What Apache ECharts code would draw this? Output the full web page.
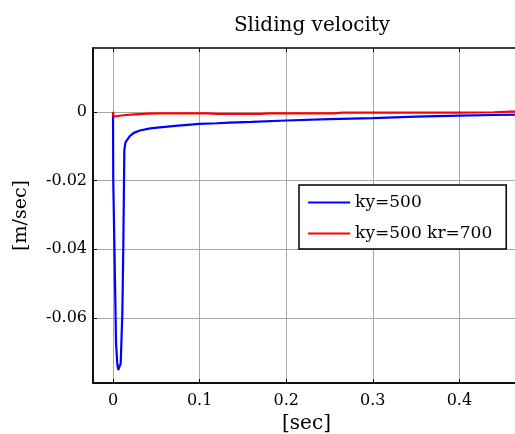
<html>
<head>
<meta charset="utf-8" />
<script src="https://cdn.jsdelivr.net/npm/echarts@6/dist/echarts.min.js"></script>
<style>
  html, body { margin: 0; padding: 0; background: #fff; overflow: hidden; }
  /* the plot box runs past the right edge of the window, as in the picture */
  #chart { width: 525px; height: 434px; }
</style>
</head>
<body>
<div id="chart"></div>
<script type="text/javascript">
    // values
    var xTicks = [0, 0.1, 0.2, 0.3, 0.4];
    var yTicks = [-0.06, -0.04, -0.02, 0];

    var tBlue = [0, 0.0003, 0.0012, 0.0023, 0.0035, 0.005, 0.0061, 0.0075, 0.0089, 0.0108, 0.0119, 0.0131,
        0.0145, 0.0197, 0.024, 0.031, 0.043, 0.054, 0.075, 0.1, 0.12, 0.135, 0.16, 0.2,
        0.25, 0.3, 0.35, 0.4, 0.44, 0.47];
    var vBlue = [0, -0.02, -0.0334, -0.049, -0.0673, -0.0735, -0.0751, -0.0748, -0.0732, -0.0585, -0.0392, -0.011,
        -0.0088, -0.007, -0.0061, -0.0054, -0.0048, -0.0045, -0.004, -0.0035, -0.0033, -0.0031, -0.0029, -0.0025,
        -0.0021, -0.0018, -0.0014, -0.0011, -0.0009, -0.0008];

    var tRed = [0, 0.0005, 0.005, 0.015, 0.025, 0.04, 0.055, 0.1, 0.11, 0.12, 0.15, 0.17, 0.18,
        0.22, 0.255, 0.265, 0.3, 0.35, 0.4, 0.44, 0.46, 0.47];
    var vRed = [0, -0.0013, -0.0012, -0.0009, -0.0007, -0.0005, -0.0004, -0.0004, -0.0004, -0.0006, -0.0006, -0.0006, -0.0004,
        -0.0004, -0.0004, -0.0002, -0.0002, -0.0002, -0.0002, -0.0001, 0.0001, 0.0001];

    function pairs(xs, ys) {
        var out = [];
        for (var i = 0; i < xs.length; i++) out.push([xs[i], ys[i]]);
        return out;
    }

    var serif = 'DejaVu Serif';
    var gridGray = '#a8a8a8';

    var chart = echarts.init(document.getElementById('chart'));
    var option = {
        animation: false,
        backgroundColor: '#fff',
        title: {
            text: 'Sliding velocity',
            left: 307,
            textAlign: 'center',
            top: 11,
            textStyle: { fontFamily: serif, fontSize: 20, fontWeight: 'normal', color: '#000' }
        },
        grid: {
            left: 93, top: 48, bottom: 51, right: 5,
            outerBoundsMode: 'none',
            show: true, borderColor: '#000', borderWidth: 1.5
        },
        legend: {
            orient: 'vertical',
            left: 299, top: 185,
            backgroundColor: '#fff',
            borderColor: '#000', borderWidth: 1.5, borderRadius: 0,
            padding: [9, 14, 7, 8],
            itemWidth: 42, itemHeight: 14, itemGap: 14,
            itemStyle: { opacity: 0 },
            lineStyle: { width: 2.2 },
            textStyle: { fontFamily: serif, fontSize: 17, color: '#000' },
            data: ['ky=500', 'ky=500 kr=700']
        },
        xAxis: [{
            type: 'value', min: -0.0231, max: 0.47,
            name: '[sec]', nameLocation: 'middle', nameGap: 31,
            nameTextStyle: { fontFamily: serif, fontSize: 20, color: '#000' },
            axisLine: { show: true, onZero: false, lineStyle: { color: '#000', width: 1.5 } },
            axisTick: { show: true, inside: true, length: 4, customValues: xTicks, lineStyle: { color: '#000' } },
            axisLabel: { customValues: xTicks, fontFamily: serif, fontSize: 16, color: '#000', margin: 10 },
            splitLine: { show: true, lineStyle: { color: gridGray, width: 1 } }
        }, {
            type: 'value', position: 'top', min: -0.0231, max: 0.47,
            axisLine: { show: false, onZero: false },
            axisTick: { show: true, inside: true, length: 4, customValues: xTicks, lineStyle: { color: '#000' } },
            axisLabel: { show: false },
            splitLine: { show: false }
        }],
        yAxis: {
            type: 'value', min: -0.0789, max: 0.0186,
            name: '[m/sec]', nameLocation: 'middle', nameGap: 62, nameRotate: 90,
            nameTextStyle: { fontFamily: serif, fontSize: 19, color: '#000' },
            axisLine: { show: true, onZero: false, lineStyle: { color: '#000', width: 1.5 } },
            axisTick: { show: true, inside: true, length: 4, customValues: yTicks, lineStyle: { color: '#000' } },
            axisLabel: {
                customValues: yTicks, fontFamily: serif, fontSize: 16, color: '#000', margin: 6,
                formatter: function (v) { return v === 0 ? '0' : String(v); }
            },
            splitLine: { show: true, lineStyle: { color: gridGray, width: 1 } }
        },
        series: [{
            name: 'ky=500', type: 'line', symbol: 'none',
            lineStyle: { color: '#0000ff', width: 2.2 }, itemStyle: { color: '#0000ff' },
            data: pairs(tBlue, vBlue)
        }, {
            name: 'ky=500 kr=700', type: 'line', symbol: 'none',
            lineStyle: { color: '#ff0000', width: 2.2 }, itemStyle: { color: '#ff0000' },
            data: pairs(tRed, vRed)
        }]
    };
    chart.setOption(option);
</script>
</body>
</html>
